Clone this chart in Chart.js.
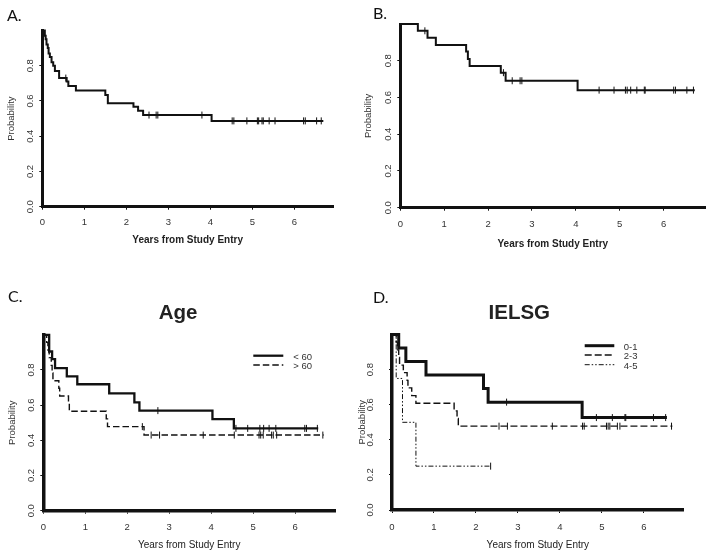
<!DOCTYPE html>
<html>
<head>
<meta charset="utf-8">
<script src="https://cdn.jsdelivr.net/npm/chart.js@4.4.0/dist/chart.umd.min.js"></script>
<style>
  html, body { margin: 0; padding: 0; background: #fff; }
  #wrap { position: relative; width: 714px; height: 558px; }
  .panel { position: absolute; width: 357px; height: 279px; }
</style>
</head>
<body>
<div id="wrap">
  <div class="panel" style="left:0;top:0"><canvas id="chartA" width="357" height="279"></canvas></div>
  <div class="panel" style="left:357px;top:0"><canvas id="chartB" width="357" height="279"></canvas></div>
  <div class="panel" style="left:0;top:279px"><canvas id="chartC" width="357" height="279"></canvas></div>
  <div class="panel" style="left:357px;top:279px"><canvas id="chartD" width="357" height="279"></canvas></div>
</div>
<script>
// tick labels
const xTicks = [0, 1, 2, 3, 4, 5, 6];
const yTicks = [0, 0.2, 0.4, 0.6, 0.8];

// A. all patients
const aTimes = [0, 0.06, 0.08, 0.10, 0.13, 0.15, 0.18, 0.22, 0.26, 0.30, 0.40, 0.58, 0.62, 0.80, 1.50, 1.56, 2.17, 2.28, 2.40, 4.03, 6.69];
const aSurv  = [1.0, 0.97, 0.95, 0.92, 0.90, 0.87, 0.85, 0.82, 0.80, 0.77, 0.73, 0.71, 0.685, 0.66, 0.634, 0.587, 0.567, 0.545, 0.52, 0.487, 0.487];
const aCensor = [0.56, 2.54, 2.71, 2.75, 3.80, 4.52, 4.56, 4.87, 5.12, 5.15, 5.23, 5.26, 5.40, 5.54, 6.22, 6.26, 6.53, 6.64];

// B.
const bTimes = [0, 0.40, 0.62, 0.81, 1.50, 1.54, 1.58, 2.29, 2.40, 4.04, 6.71];
const bSurv  = [1.0, 0.963, 0.925, 0.886, 0.85, 0.81, 0.771, 0.735, 0.691, 0.64, 0.64];
const bCensor = [0.56, 2.35, 2.55, 2.73, 2.77, 4.53, 4.87, 5.13, 5.17, 5.25, 5.39, 5.56, 5.58, 6.23, 6.27, 6.53, 6.68];

// C. Age
const cYoungTimes = [0, 0.14, 0.21, 0.28, 0.56, 0.81, 1.57, 2.17, 2.29, 4.03, 4.54, 6.55];
const cYoungSurv  = [1.0, 0.905, 0.862, 0.81, 0.764, 0.719, 0.667, 0.616, 0.569, 0.521, 0.468, 0.468];
const cYoungCensor = [2.73, 4.59, 4.87, 5.16, 5.25, 5.38, 5.54, 6.23, 6.27, 6.53];
const cOldTimes = [0, 0.08, 0.11, 0.14, 0.19, 0.21, 0.23, 0.37, 0.39, 0.60, 0.62, 1.50, 1.53, 2.40, 6.68];
const cOldSurv  = [1.0, 0.957, 0.913, 0.87, 0.826, 0.783, 0.739, 0.696, 0.652, 0.609, 0.565, 0.522, 0.478, 0.43, 0.43];
const cOldCensor = [2.36, 2.57, 2.77, 3.81, 4.55, 5.14, 5.18, 5.24, 5.44, 5.48, 5.56, 6.66];

// D. IELSG
const dLowTimes = [0, 0.16, 0.33, 0.81, 2.18, 2.29, 4.53, 6.55];
const dLowSurv  = [1.0, 0.923, 0.846, 0.769, 0.692, 0.615, 0.527, 0.527];
const dLowCensor = [2.73, 4.87, 5.25, 5.55, 5.57, 6.23, 6.52];
const dMidTimes = [0, 0.10, 0.13, 0.16, 0.18, 0.27, 0.36, 0.38, 0.47, 0.57, 1.48, 1.55, 1.58, 6.68];
const dMidSurv  = [1.0, 0.957, 0.913, 0.87, 0.826, 0.783, 0.739, 0.696, 0.652, 0.609, 0.565, 0.522, 0.478, 0.478];
const dMidCensor = [2.55, 2.75, 3.82, 4.54, 4.58, 5.11, 5.15, 5.19, 5.37, 5.43, 6.66];
const dHighTimes = [0, 0.10, 0.25, 0.57, 2.35];
const dHighSurv  = [1.0, 0.75, 0.5, 0.25, 0.25];
const dHighCensor = [2.35];

const FONT = "'Liberation Sans', Arial, sans-serif";
const INK = '#111';
const TXT = '#333';

function stepPoints(times, surv) {
  return times.map((t, i) => ({ x: t, y: surv[i] }));
}
function survAt(times, surv, t) {
  let s = surv[0];
  for (let i = 0; i < times.length; i++) if (times[i] <= t) s = surv[i];
  return s;
}

// one KM curve = step line + censor ticks
function curve(label, times, surv, cens, width, dash) {
  return [
    {
      label, data: stepPoints(times, surv), stepped: 'before',
      borderColor: INK, borderWidth: width, borderDash: dash || [],
      pointRadius: 0, fill: false, clip: false
    },
    {
      label: label + ' censored', legendSkip: true,
      data: cens.map(t => ({ x: t, y: survAt(times, surv, t) })),
      showLine: false, pointStyle: 'line', pointRotation: 90, pointRadius: 3.5,
      pointBorderWidth: 1, pointBorderColor: INK, borderColor: INK, clip: false
    }
  ];
}

// letter, title and legend drawn on top
const panelText = {
  id: 'panelText',
  afterDraw(chart, args, o) {
    const ctx = chart.ctx;
    ctx.save();
    ctx.fillStyle = '#111';
    ctx.font = "16px Lato, 'Open Sans', sans-serif";
    ctx.textBaseline = 'alphabetic';
    ctx.textAlign = 'left';
    ctx.fillText(o.letter, o.letterX, o.letterY);
    if (o.title) {
      ctx.font = 'bold 20.5px ' + FONT;
      ctx.textAlign = 'center';
      ctx.fillStyle = '#222';
      ctx.fillText(o.title, o.titleX, o.titleY);
    }
    if (o.legend) {
      const lg = o.legend;
      const sets = chart.data.datasets.filter(d => !d.legendSkip);
      sets.forEach((d, i) => {
        const y = lg.rows[i];
        ctx.strokeStyle = INK;
        ctx.lineWidth = d.borderWidth;
        ctx.setLineDash(d.borderDash || []);
        ctx.beginPath();
        ctx.moveTo(lg.x0, y);
        ctx.lineTo(lg.x1, y);
        ctx.stroke();
        ctx.setLineDash([]);
        ctx.font = '9.5px ' + FONT;
        ctx.fillStyle = TXT;
        ctx.textAlign = 'left';
        ctx.textBaseline = 'middle';
        ctx.fillText(d.label, lg.textX, y + 1.5);
      });
    }
    ctx.restore();
  }
};

function makePanel(id, p, datasets, text) {
  return new Chart(document.getElementById(id), {
    type: 'line',
    data: { datasets },
    options: {
      responsive: false,
      animation: false,
      layout: { padding: { left: 0, top: p.areaT, right: p.w - p.areaR, bottom: 0 } },
      plugins: { legend: { display: false }, tooltip: { enabled: false }, title: { display: false }, panelText: text },
      scales: {
        x: {
          type: 'linear', min: 0, max: p.xMax,
          afterBuildTicks: s => { s.ticks = xTicks.map(v => ({ value: v })); },
          afterFit: s => { s.height = p.h - p.areaB; },
          grid: { drawOnChartArea: false, drawTicks: true, tickLength: 3, color: INK, lineWidth: 1 },
          border: { display: true, color: INK, width: p.axisW },
          ticks: { color: TXT, font: { family: FONT, size: 9.5 }, padding: p.xTickPad, maxRotation: 0, callback: v => String(v) },
          title: {
            display: true, text: 'Years from Study Entry', color: '#222',
            font: { family: FONT, size: 10, weight: p.xTitleBold ? 'bold' : 'normal' },
            padding: { top: 0, bottom: p.xTitlePad }
          }
        },
        y: {
          type: 'linear', min: 0, max: 1,
          afterBuildTicks: s => { s.ticks = yTicks.map(v => ({ value: v })); },
          afterFit: s => { s.width = p.areaL; },
          grid: { drawOnChartArea: false, drawTicks: true, tickLength: 3, color: INK, lineWidth: 1 },
          border: { display: true, color: INK, width: p.axisW },
          ticks: {
            color: TXT, font: { family: FONT, size: 9.5 }, padding: p.yTickPad,
            minRotation: 90, maxRotation: 90, crossAlign: 'center',
            callback: v => Number(v).toFixed(1)
          },
          title: {
            display: true, text: 'Probability', color: TXT,
            font: { family: FONT, size: 9.5 }, padding: { top: p.yTitlePad, bottom: 0 }
          }
        }
      }
    },
    plugins: [panelText]
  });
}

makePanel('chartA',
  { w: 357, h: 279, areaL: 42.3, areaR: 333, areaT: 30.5, areaB: 206.7, xMax: 6.92, axisW: 3,
    yTickPad: 2.7, yTitlePad: 5.5, xTickPad: 6.5, xTitlePad: 33, xTitleBold: true },
  curve('All', aTimes, aSurv, aCensor, 2),
  { letter: 'A.', letterX: 7, letterY: 20.7 });

makePanel('chartB',
  { w: 357, h: 279, areaL: 43.3, areaR: 348.3, areaT: 24, areaB: 207.7, xMax: 6.95, axisW: 3,
    yTickPad: 2.7, yTitlePad: 5.5, xTickPad: 7.6, xTitlePad: 29, xTitleBold: true },
  curve('All', bTimes, bSurv, bCensor, 2),
  { letter: 'B.', letterX: 16, letterY: 19.3 });

makePanel('chartC',
  { w: 357, h: 279, areaL: 43.3, areaR: 335, areaT: 55.8, areaB: 231.7, xMax: 6.95, axisW: 3.5,
    yTickPad: 2, yTitlePad: 6.3, xTickPad: 7.9, xTitlePad: 7, xTitleBold: false },
  [...curve('< 60', cYoungTimes, cYoungSurv, cYoungCensor, 2.3),
   ...curve('> 60', cOldTimes, cOldSurv, cOldCensor, 1.4, [6.5, 3])],
  { letter: 'C.', letterX: 8, letterY: 23.3, title: 'Age', titleX: 178, titleY: 40,
    legend: { x0: 253.3, x1: 283.3, textX: 293.3, rows: [76.7, 86] } });

makePanel('chartD',
  { w: 357, h: 279, areaL: 35, areaR: 326.7, areaT: 55.6, areaB: 231, xMax: 6.95, axisW: 3.5,
    yTickPad: 12, yTitlePad: 0, xTickPad: 8.6, xTitlePad: 6.3, xTitleBold: false },
  [...curve('0-1', dLowTimes, dLowSurv, dLowCensor, 3),
   ...curve('2-3', dMidTimes, dMidSurv, dMidCensor, 1.4, [7, 3]),
   ...curve('4-5', dHighTimes, dHighSurv, dHighCensor, 1, [5, 2, 1.5, 2, 1.5, 2])],
  { letter: 'D.', letterX: 16, letterY: 24, title: 'IELSG', titleX: 162.3, titleY: 40,
    legend: { x0: 227.7, x1: 257.3, textX: 266.7, rows: [66.7, 76, 85.7] } });
</script>
</body>
</html>
